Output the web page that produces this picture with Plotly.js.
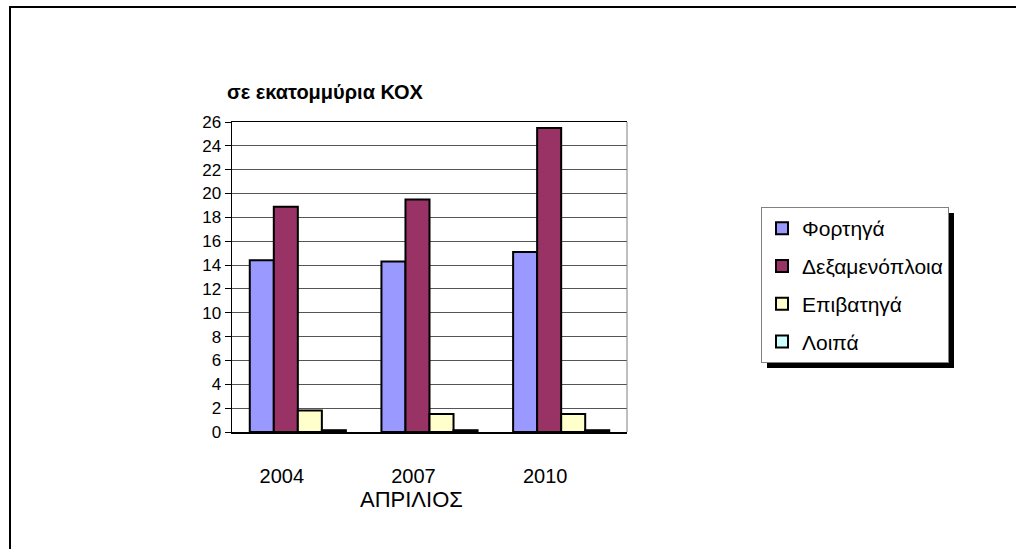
<!DOCTYPE html>
<html>
<head>
<meta charset="utf-8">
<script src="https://cdn.plot.ly/plotly-3.0.1.min.js"></script>
<style>
  html, body { margin: 0; padding: 0; background: #fff; }
  #wrap { position: relative; width: 1016px; height: 549px; overflow: hidden; }
  #chart { position: absolute; left: 0; top: 0; width: 1016px; height: 549px; }
  #frame { position: absolute; left: 9px; top: 6px; width: 1100px; height: 700px;
           border-left: 2px solid #000; border-top: 2px solid #000; pointer-events: none; }
</style>
</head>
<body>
<div id="wrap">
  <div id="chart"></div>
  <div id="frame"></div>
</div>
<script>
const years = ['2004', '2007', '2010'];
const seriesNames = ['Φορτηγά', 'Δεξαμενόπλοια', 'Επιβατηγά', 'Λοιπά'];
const fortiga = [14.4, 14.3, 15.1];
const dexamenoploia = [18.9, 19.5, 25.5];
const epivatiga = [1.8, 1.5, 1.5];
const loipa = [0.15, 0.15, 0.15];
const colors = ['#9999FF', '#993366', '#FFFFCC', '#CCFFFF'];
const yTicks = [0, 2, 4, 6, 8, 10, 12, 14, 16, 18, 20, 22, 24, 26];

const allValues = [fortiga, dexamenoploia, epivatiga, loipa];
const FONT = 'Liberation Sans, Arial, sans-serif';

const traces = allValues.map((vals, i) => ({
  type: 'bar',
  name: seriesNames[i],
  x: years,
  y: vals,
  legendgroup: 'g' + i,
  marker: { color: colors[i], line: { color: '#000', width: 2 } },
  hoverinfo: 'x+y+name'
}));

const layout = {
  width: 1016,
  height: 549,
  paper_bgcolor: '#fff',
  plot_bgcolor: '#fff',
  font: { family: FONT, color: '#000' },
  margin: { l: 232, r: 389, t: 122, b: 117, pad: 0 },
  barmode: 'group',
  bargap: 0.27,
  bargroupgap: 0,
  title: {
    text: '<b>σε εκατομμύρια ΚΟΧ</b>',
    font: { family: FONT, size: 20, color: '#000' },
    x: 227 / 1016, xanchor: 'left', xref: 'container',
    y: 1 - 92 / 549, yanchor: 'middle', yref: 'container'
  },
  xaxis: {
    type: 'category',
    showline: true, linecolor: '#000', linewidth: 1.5, mirror: true,
    ticks: '', showgrid: false,
    tickfont: { family: FONT, size: 20, color: '#000' },
    ticklabelstandoff: 25,
    ticklabelshift: -16,
    fixedrange: true
  },
  yaxis: {
    range: [0, 26],
    tickvals: yTicks,
    ticktext: yTicks.map(String),
    showline: true, linecolor: '#000', linewidth: 1.5,
    ticks: 'outside', ticklen: 6, tickcolor: '#000', tickwidth: 1,
    showgrid: true, gridcolor: '#555', gridwidth: 1,
    zeroline: false,
    tickfont: { family: FONT, size: 17, color: '#000' },
    fixedrange: true
  },
  legend: {
    x: (761 - 232) / 395, xanchor: 'left',
    y: (432 - 207) / 310, yanchor: 'top',
    bgcolor: '#fff', bordercolor: '#808080', borderwidth: 1,
    font: { family: FONT, size: 21, color: '#000' },
    tracegroupgap: 7.5,
    traceorder: 'grouped'
  },
  annotations: [{
    text: 'ΑΠΡΙΛΙΟΣ',
    xref: 'paper', yref: 'paper',
    x: (411 - 232) / 395, y: (432 - 500) / 310,
    xanchor: 'center', yanchor: 'middle',
    showarrow: false,
    font: { family: FONT, size: 22, color: '#000' }
  }],
  shapes: [
    { type: 'line', xref: 'paper', yref: 'paper', x0: 1, x1: 1, y0: 0, y1: 1,
      line: { color: '#808080', width: 1 } },
    { type: 'rect', xref: 'paper', yref: 'paper',
      x0: (767 - 232) / 395, x1: (954 - 232) / 395,
      y0: (432 - 368) / 310, y1: (432 - 213) / 310,
      fillcolor: '#000', line: { width: 0 }, layer: 'above' }
  ],
  showlegend: true
};

Plotly.newPlot('chart', traces, layout, { displayModeBar: false, staticPlot: true });
</script>
</body>
</html>
